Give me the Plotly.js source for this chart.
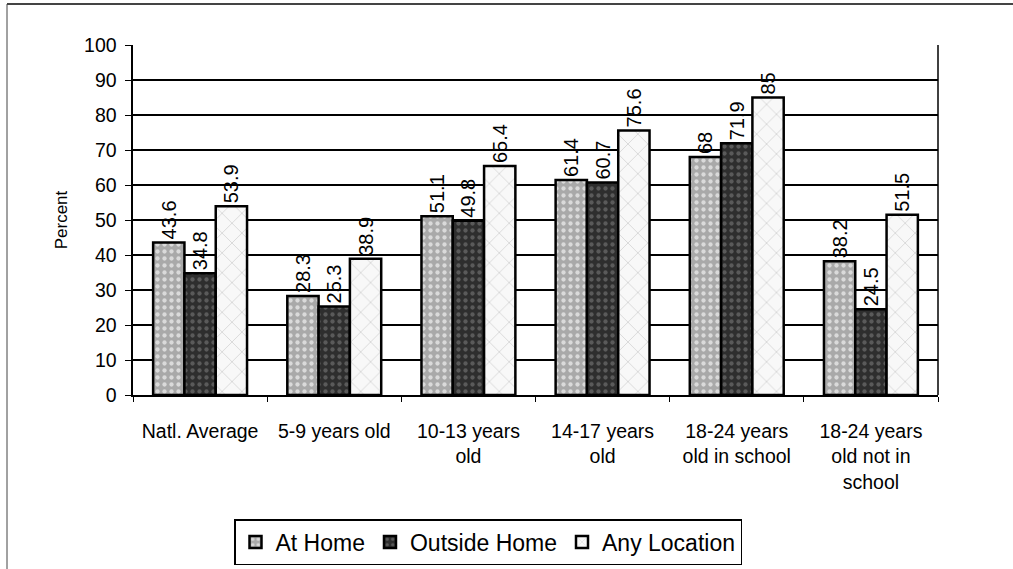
<!DOCTYPE html>
<html><head><meta charset="utf-8">
<script src="https://cdn.plot.ly/plotly-3.0.1.min.js"></script>
<style>html,body{margin:0;padding:0;background:#fff}#chart{width:1013px;height:569px}</style>
</head><body><div id="chart"></div>
<script>
const categories = ["Natl. Average","5-9 years old","10-13 years<br>old","14-17 years<br>old","18-24 years<br>old in school","18-24 years<br>old not in<br>school"];
const atHome = [43.6, 28.3, 51.1, 61.4, 68, 38.2];
const outsideHome = [34.8, 25.3, 49.8, 60.7, 71.9, 24.5];
const anyLocation = [53.9, 38.9, 65.4, 75.6, 85, 51.5];
const seriesNames = ["At Home","Outside Home","Any Location"];
const seriesColors = ["#a9a9a9","#2e2e2e","#f8f8f8"];
const patternFg = ["#dadada","#5a5a5a","#c4c4c4"];
const patternShape = [".",".","x"];
const yTicks = [0,10,20,30,40,50,60,70,80,90,100];

const W=1013,H=569,L=133,R=75,T=45,B=174;
const pw=W-L-R, ph=H-T-B;
const px = v => (v-L)/pw;
const py = v => (H-B-v)/ph;

const traces = [atHome, outsideHome, anyLocation].map((vals,i)=>({
  type:'bar', name:seriesNames[i], x:categories, y:vals,
  text:vals.map(String), textposition:'outside', textangle:-90,
  constraintext:'none', cliponaxis:false,
  textfont:{family:'Arial, Liberation Sans, sans-serif', size:20, color:'#000'},
  marker:{color:seriesColors[i], line:{color:'#000', width:2.5},
    pattern:{shape:patternShape[i], bgcolor:seriesColors[i], fgcolor:patternFg[i], fgopacity:1, size:i===2?14:7, solidity:i===2?0.08:0.3}}
}));

const layout = {
  width:W, height:H, margin:{l:L,r:R,t:T,b:B,autoexpand:false},
  paper_bgcolor:'#fff', plot_bgcolor:'#fff',
  font:{family:'Arial, Liberation Sans, sans-serif', color:'#000', size:19},
  barmode:'group', bargap:0.3, bargroupgap:0,
  showlegend:true,
  legend:{orientation:'h', x:px(488), xanchor:'center', y:py(519), yanchor:'top',
    bordercolor:'#000', borderwidth:1.5, font:{size:23}, traceorder:'normal',
    tracegroupgap:0},
  xaxis:{type:'category', tickson:'boundaries', ticks:'outside', ticklen:5, tickcolor:'#000',
    showline:true, linecolor:'#000', linewidth:1.5, showgrid:false, automargin:false,
    tickfont:{size:19.5}, ticklabelstandoff:18, mirror:false},
  yaxis:{range:[0,100], tickvals:yTicks, ticks:'outside', ticklen:6, tickcolor:'#000',
    showline:true, linecolor:'#000', linewidth:2.5, showgrid:true, gridcolor:'#000', gridwidth:1.2,
    zeroline:false, tickfont:{size:19.5}, ticklabelstandoff:4, automargin:false,
    title:{text:'Percent', font:{size:17}, standoff:12}},
  shapes:[
    {type:'line', xref:'paper', yref:'paper', x0:px(7), x1:px(1013), y0:py(4), y1:py(4), line:{color:'#444', width:2}},
    {type:'line', xref:'paper', yref:'paper', x0:px(7), x1:px(7), y0:py(4), y1:py(569), line:{color:'#444', width:1}},
    {type:'line', xref:'paper', yref:'paper', x0:px(938), x1:px(938), y0:0, y1:1, line:{color:'#000', width:1.5}}
  ]
};
Plotly.newPlot('chart', traces, layout, {displayModeBar:false, staticPlot:true});
</script></body></html>
